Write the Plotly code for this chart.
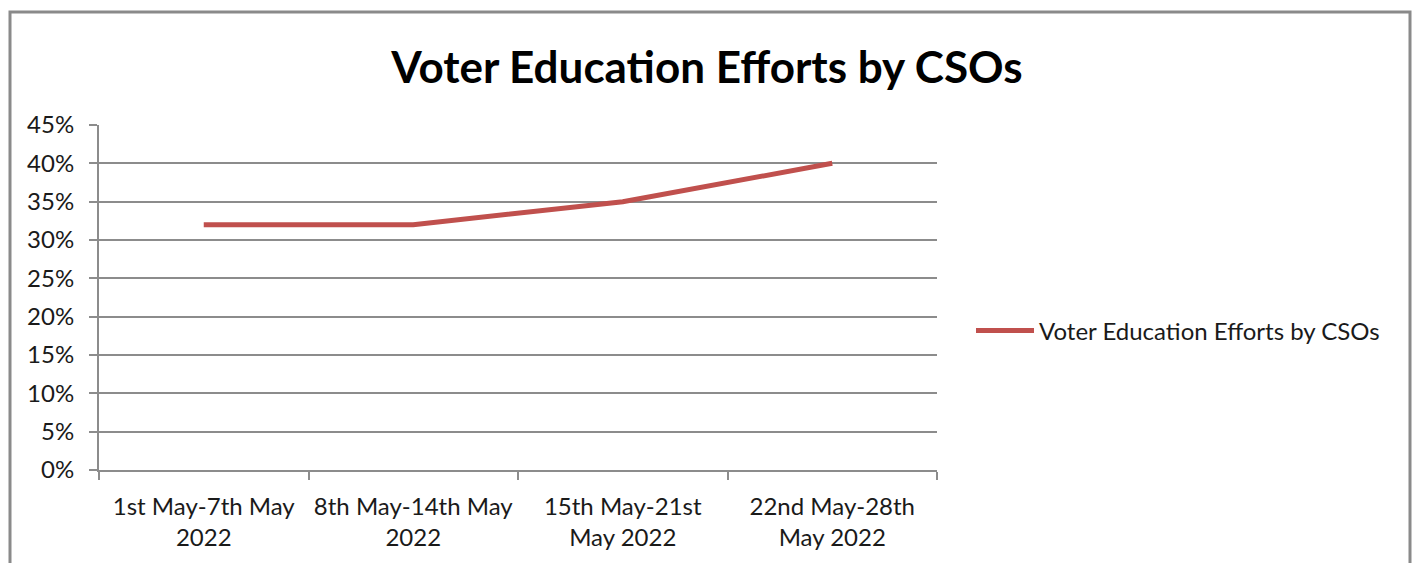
import plotly.graph_objects as go

# Weekly share of voter education efforts by CSOs
weeks = [
    "1st May-7th May<br>2022",
    "8th May-14th May<br>2022",
    "15th May-21st<br>May 2022",
    "22nd May-28th<br>May 2022",
]
share = [0.32, 0.32, 0.35, 0.40]
series_name = "Voter Education Efforts by CSOs"
y_ticks = [0, 0.05, 0.10, 0.15, 0.20, 0.25, 0.30, 0.35, 0.40, 0.45]

FONT = "Lato, Open Sans, sans-serif"
GRID = "#8c8c8c"
TEXT = "#1a1a1a"

fig = go.Figure()
fig.add_trace(go.Scatter(
    x=weeks, y=share, mode="lines", name=series_name,
    line=dict(color="#C0504D", width=5, shape="linear"),
))

W, H = 1414, 563
L, R, T, B = 99, 477, 125, 93
pw, ph = W - L - R, H - T - B

def px_x(x):
    return (x - L) / pw

def px_y(y):
    return (H - B - y) / ph

fig.update_layout(
    width=W, height=H,
    margin=dict(l=L, r=R, t=T, b=B),
    paper_bgcolor="white", plot_bgcolor="white",
    font=dict(family=FONT, size=24, color=TEXT),
    title=dict(text="<b>Voter Education Efforts by CSOs</b>",
               x=0.5, xref="container", xanchor="center",
               y=1 - 68 / H, yanchor="middle",
               font=dict(family=FONT, size=44, color="#000000")),
    showlegend=True,
    legend=dict(x=px_x(971), y=px_y(331), xanchor="left", yanchor="middle",
                font=dict(family=FONT, size=24, color=TEXT),
                itemwidth=58, bgcolor="rgba(0,0,0,0)"),
    xaxis=dict(
        type="category", range=[-0.5, 3.5],
        showline=True, linecolor=GRID, linewidth=2,
        ticks="outside", tickson="boundaries", ticklen=8, tickcolor=GRID, tickwidth=2,
        showgrid=False, tickfont=dict(family=FONT, size=24, color=TEXT),
        ticklabelstandoff=14,
    ),
    yaxis=dict(
        range=[0, 0.45], tickvals=y_ticks, tickformat=".0%",
        showline=True, linecolor=GRID, linewidth=2,
        ticks="outside", ticklen=8, tickcolor=GRID, tickwidth=2,
        showgrid=True, gridcolor=GRID, gridwidth=2, zeroline=False,
        tickfont=dict(family=FONT, size=24, color=TEXT),
        ticklabelstandoff=10,
    ),
)

# Chart frame
fig.add_shape(type="rect", xref="paper", yref="paper",
              x0=px_x(10), x1=px_x(1410), y0=px_y(600), y1=px_y(12),
              line=dict(color="#8a8a8a", width=3), layer="below")

fig.write_html("out.html")
